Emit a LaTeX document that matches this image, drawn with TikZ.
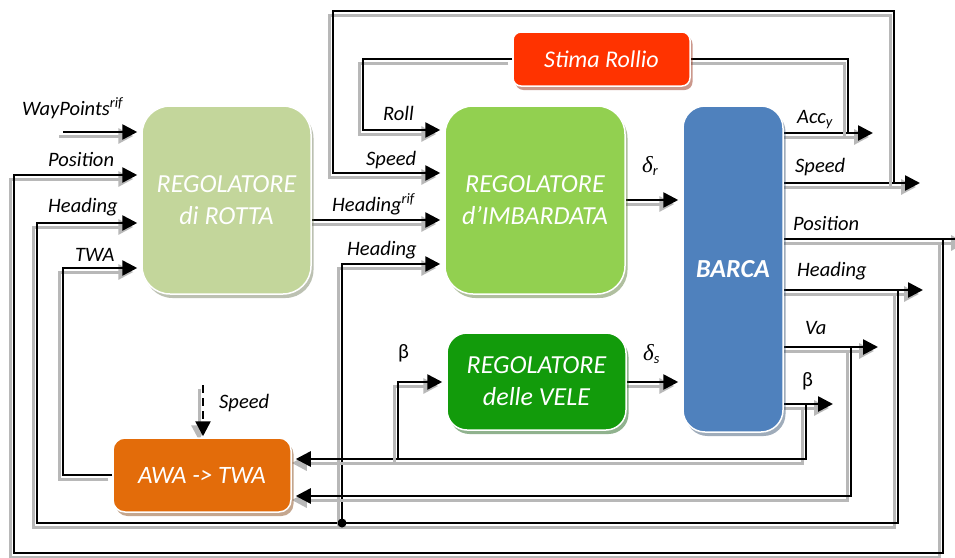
\documentclass[tikz,border=0pt]{standalone}
\usepackage{fontspec}
\setmainfont{Carlito}
\newfontfamily\grk{Liberation Serif}
\usetikzlibrary{arrows.meta,shadows,backgrounds}
\definecolor{rottaC}{HTML}{C3D69B}
\definecolor{imbC}{HTML}{92D050}
\definecolor{stimaC}{HTML}{FF3300}
\definecolor{barcaC}{HTML}{4F81BD}
\definecolor{veleC}{HTML}{129B0B}
\definecolor{awaC}{HTML}{E36C0A}
\newcommand{\dlt}[1]{{\grk\itshape\fontsize{23}{26}\selectfont δ}\textsubscript{\itshape #1}}
\begin{document}
\begin{tikzpicture}[x=1pt,y=-1pt,
  blk/.style={fill=#1, draw=white, line width=1.5pt, text=white, align=center, inner sep=0pt,
    drop shadow={shadow xshift=2.5pt, shadow yshift=-4pt, fill=#1!55!black, opacity=0.45},
    font=\itshape\fontsize{26}{32}\selectfont},
  sig/.style={draw=black, line width=2.6pt,
    preaction={draw=black!28, line width=3pt, transform canvas={xshift=-4pt,yshift=-4pt}}},
  arr/.style={-{Triangle[length=15pt,width=15pt]}},
  into/.style={arr, shorten >=4pt},
  lbl/.style={inner sep=0pt, anchor=base west, font=\itshape\fontsize{20.5}{24}\selectfont},
  sym/.style={inner sep=0pt, anchor=base west, font=\fontsize{20.5}{24}\selectfont}]
\useasboundingbox (0,0) rectangle (955,557);

% blocks
\node[blk=rottaC, rounded corners=28pt, minimum width=169pt, minimum height=188pt] (rotta) at (226.5,200) {REGOLATORE\\di ROTTA};
\node[blk=imbC, rounded corners=28pt, minimum width=180pt, minimum height=188pt] (imb) at (535,200) {REGOLATORE\\d’IMBARDATA};
\node[blk=stimaC, rounded corners=8pt, minimum width=177pt, minimum height=54pt, font=\itshape\fontsize{24}{28}\selectfont] (stima) at (601.5,59) {Stima Rollio};
\node[blk=barcaC, rounded corners=22pt, minimum width=100pt, minimum height=326pt, font=\bfseries\itshape\fontsize{26}{32}\selectfont] (barca) at (733,269) {BARCA};
\node[blk=veleC, rounded corners=20pt, minimum width=179pt, minimum height=97pt] (vele) at (536.5,381.5) {REGOLATORE\\delle VELE};
\node[blk=awaC, rounded corners=12pt, minimum width=178pt, minimum height=74pt, font=\itshape\fontsize{25}{30}\selectfont] (awa) at (202,475) {AWA -> TWA};

% signal lines
\begin{scope}[on background layer]
\fill[white] (0,0) rectangle (955,557);
\coordinate (wp) at (63,132);
\draw[sig,into] (wp) -- (rotta.west |- wp);
% Position feedback
\draw[sig,arr] (barca.east |- 0,239) -- (970,239);
\draw[sig,into] (943,239) -- (943,553) -- (14,553) -- (14,175) -- (rotta.west |- 0,175);
% Heading feedback
\draw[sig,arr] (barca.east |- 0,290) -- (923,290);
\draw[sig,into] (898,290) -- (898,523) -- (37,523) -- (37,223) -- (rotta.west |- 0,223);
\draw[sig,into] (342,523) -- (342,264) -- (imb.west |- 0,264);
% TWA
\draw[sig,into] (awa.west) -- (63,475) -- (63,268) -- (rotta.west |- 0,268);
% Speed feedback
\draw[sig,arr] (barca.east |- 0,183) -- (920,183);
\draw[sig,into] (894,183) -- (894,11) -- (333,11) -- (333,173) -- (imb.west |- 0,173);
\coordinate (spd) at (203,385);
\draw[sig,arr,dash pattern=on 8pt off 5pt,shorten >=1pt] (spd) -- (spd |- awa.north);
% Acc_y and roll estimate
\draw[sig,arr] (barca.east |- 0,133) -- (873,133);
\draw[sig] (848,133) -- (848,59) -- (stima.east);
\draw[sig,into] (stima.west) -- (363,59) -- (363,130) -- (imb.west |- 0,130);
% references and actuations
\draw[sig,into] (rotta.east |- 0,220) -- (imb.west |- 0,220);
\draw[sig,into] (imb.east |- 0,200) -- (barca.west |- 0,200);
\draw[sig,into] (vele.east |- 0,382) -- (barca.west |- 0,382);
% Va and beta
\draw[sig,arr] (barca.east |- 0,347) -- (878,347);
\draw[sig,into] (851,347) -- (851,496) -- (awa.east |- 0,496);
\draw[sig,arr] (barca.east |- 0,404) -- (833,404);
\draw[sig,into] (806,404) -- (806,459) -- (awa.east |- 0,459);
\draw[sig,into] (398,459) -- (398,382) -- (vele.west |- 0,382);
\end{scope}
\fill (342,523) circle (4.5pt);

% labels
\node[lbl] at (22,115) {WayPoints\textsuperscript{rif}};
\node[lbl] at (48,166) {Position};
\node[lbl] at (48,212) {Heading};
\node[lbl] at (75,261) {TWA};
\node[lbl] at (383,120) {Roll};
\node[lbl] at (366,165) {Speed};
\node[lbl] at (332,211) {Heading\textsuperscript{rif}};
\node[lbl] at (347,255) {Heading};
\node[sym] at (398,358) {β};
\node[lbl] at (219,408) {Speed};
\node[lbl] at (642,172) {\dlt{r}};
\node[lbl] at (643,360) {\dlt{s}};
\node[lbl] at (797,123) {Acc\textsubscript{y}};
\node[lbl] at (795,172) {Speed};
\node[lbl] at (793,230) {Position};
\node[lbl] at (797,276) {Heading};
\node[lbl] at (805,334) {Va};
\node[sym] at (802,386) {β};
\end{tikzpicture}
\end{document}
